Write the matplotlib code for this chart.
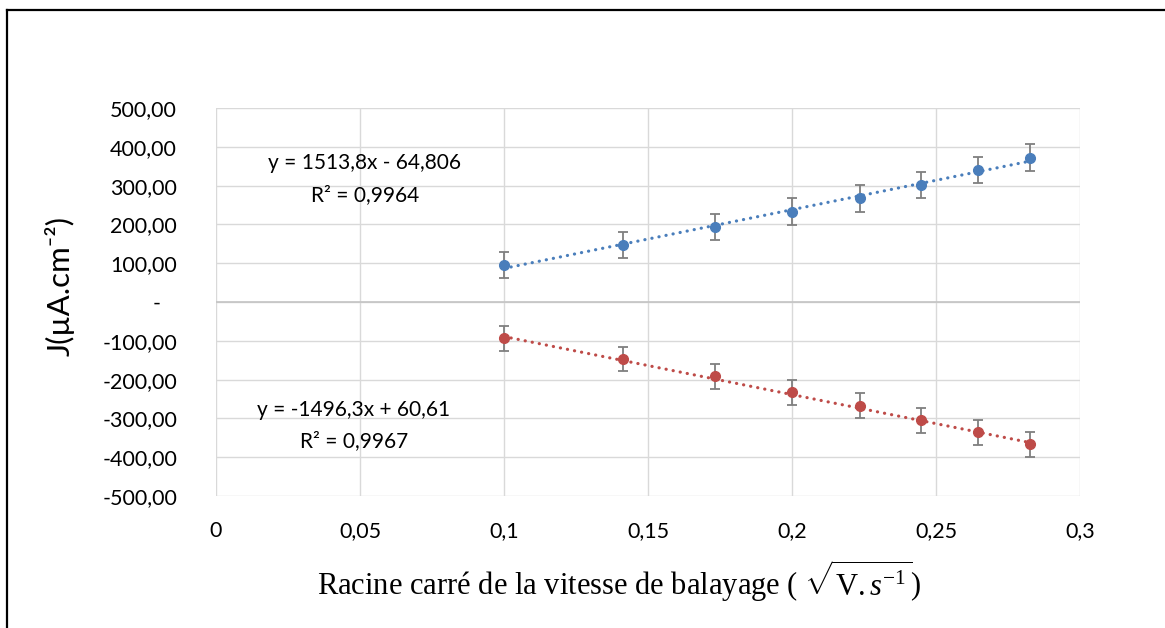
import matplotlib
matplotlib.use("Agg")
import matplotlib.pyplot as plt
from matplotlib.lines import Line2D
import numpy as np

# ---- data ----
x_vals = [0.1, 0.1414, 0.1732, 0.2, 0.2236, 0.2449, 0.2646, 0.2828]
j_ox = [95, 147, 193, 233, 267, 302, 340, 372]
j_red = [-94, -147, -192, -233, -267, -305, -336, -367]
err_ox = [34, 34, 34, 34, 34, 34, 34, 34]
err_red = [32, 32, 32, 32, 32, 32, 32, 32]
fit_ox = (1513.8, -64.806)
fit_red = (-1496.3, 60.61)
eq_ox = ["y = 1513,8x - 64,806", "R² = 0,9964"]
eq_red = ["y = -1496,3x + 60,61", "R² = 0,9967"]
x_ticks = [0, 0.05, 0.1, 0.15, 0.2, 0.25, 0.3]
x_ticklabels = ["0", "0,05", "0,1", "0,15", "0,2", "0,25", "0,3"]
y_ticks = [500, 400, 300, 200, 100, 0, -100, -200, -300, -400, -500]
y_ticklabels = ["500,00", "400,00", "300,00", "200,00", "100,00", "-   ",
                "-100,00", "-200,00", "-300,00", "-400,00", "-500,00"]

BLUE = "#4A7EBB"
RED = "#BE4B48"
GRAY = "#7F7F7F"

plt.rcParams["font.family"] = ["Lato", "DejaVu Sans"]
plt.rcParams["mathtext.fontset"] = "custom"
plt.rcParams["mathtext.rm"] = "Liberation Serif"
plt.rcParams["mathtext.it"] = "Liberation Serif:italic"
plt.rcParams["mathtext.sf"] = "Lato"

W, H = 1165, 628
fig = plt.figure(figsize=(W / 100, H / 100), dpi=100)
ax = fig.add_axes([216 / W, 1 - 496 / H, (1080 - 216) / W, (496 - 108) / H])

ax.set_xlim(0, 0.3)
ax.set_ylim(-500, 500)
ax.set_xticks(x_ticks)
ax.set_xticklabels(x_ticklabels)
ax.set_yticks(y_ticks)
ax.set_yticklabels(y_ticklabels)
ax.tick_params(axis="both", length=0, labelsize=15.5, colors="#000000")
ax.tick_params(axis="y", pad=28)
ax.tick_params(axis="x", pad=18)
for s in ax.spines.values():
    s.set_visible(False)
ax.grid(True, color="#D9D9D9", linewidth=1.0)
ax.set_axisbelow(True)
ax.axhline(0, color="#C4C4C4", linewidth=1.2, zorder=1)

# trend lines
xf = np.array([x_vals[0], x_vals[-1]])
for (a, b), c in [(fit_ox, BLUE), (fit_red, RED)]:
    ax.plot(xf, a * xf + b, color=c, linewidth=2.3,
            linestyle=(0, (0.05, 2.2)), dash_capstyle="round", zorder=2)

# points with error bars
for yv, ev, c in [(j_ox, err_ox, BLUE), (j_red, err_red, RED)]:
    ax.errorbar(x_vals, yv, yerr=ev, fmt="none", ecolor=GRAY,
                elinewidth=1.3, capsize=3.8, capthick=1.3, zorder=3)
    ax.plot(x_vals, yv, "o", color=c, markersize=7, zorder=4)

# equations
def fig_text(px, py, s, **kw):
    fig.text(px / W, 1 - py / H, s, ha="center", va="center",
             fontsize=15, **kw)

fig_text(364, 163, eq_ox[0])
fig_text(365, 195, eq_ox[1])
fig_text(354, 410, eq_red[0])
fig_text(354, 441, eq_red[1])

# axis labels
fig.text(60 / W, 1 - 286 / H, "J(µA.cm⁻²)", rotation=90,
         ha="center", va="center", fontsize=22.5,
         family=["Lato", "DejaVu Sans"])
fig.text(619 / W, 1 - 581 / H,
         r"Racine carré de la vitesse de balayage ( $\sqrt{\mathrm{V.}s^{-1}}$)",
         ha="center", va="center", fontsize=22, family="Liberation Serif")

# figure frame (left and top edges visible)
fig.add_artist(Line2D([7 / W, 7 / W], [0, 1 - 10 / H], color="black",
                      linewidth=1.6, transform=fig.transFigure))
fig.add_artist(Line2D([7 / W, 1], [1 - 10 / H, 1 - 10 / H], color="black",
                      linewidth=1.6, transform=fig.transFigure))

fig.savefig("out.png", dpi=100, facecolor="white")
